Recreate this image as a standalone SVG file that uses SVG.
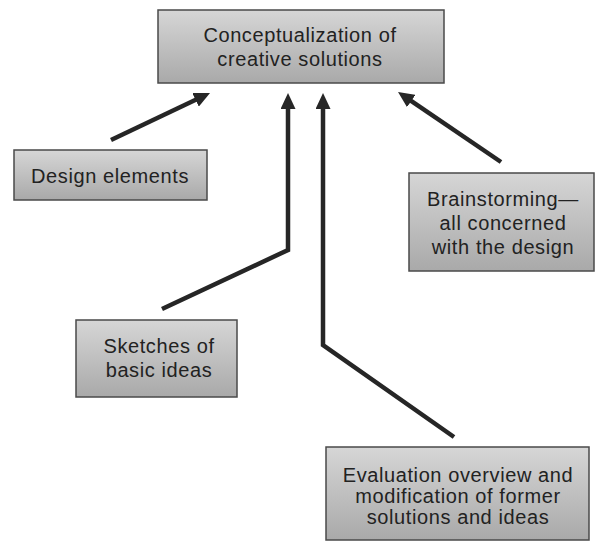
<svg xmlns="http://www.w3.org/2000/svg" width="596" height="543" viewBox="0 0 596 543">
<style>
.box{fill:url(#g);stroke:#4a4a4a;stroke-width:1.5}
.t{font-family:"Liberation Sans",Arial,sans-serif;font-size:20px;letter-spacing:0.6px;fill:#222;text-anchor:middle}
.c{fill:none;stroke:#262626;stroke-width:4.5;stroke-linejoin:miter}
</style>
<defs>
<linearGradient id="g" x1="0" y1="0" x2="0" y2="1">
<stop offset="0" stop-color="#d6d6d6"/>
<stop offset="1" stop-color="#a9a9a9"/>
</linearGradient>
<marker id="ah" markerUnits="userSpaceOnUse" markerWidth="17" markerHeight="15" refX="6" refY="7.5" orient="auto" viewBox="0 0 17 15">
<path d="M0,0 L16,7.5 L0,15 Z" fill="#262626"/>
</marker>
</defs>
<g id="conceptualization">
<rect class="box" x="158" y="10" width="286" height="73"/>
<text class="t" x="300" y="42">Conceptualization of</text>
<text class="t" x="300" y="66">creative solutions</text>
</g>
<g id="design-elements">
<rect class="box" x="14" y="150" width="193" height="50"/>
<text class="t" x="110" y="183">Design elements</text>
</g>
<g id="brainstorming">
<rect class="box" x="409" y="173" width="185" height="98"/>
<text class="t" x="503" y="206">Brainstorming—</text>
<text class="t" x="503" y="230">all concerned</text>
<text class="t" x="503" y="254">with the design</text>
</g>
<g id="sketches">
<rect class="box" x="76" y="320" width="161" height="77"/>
<text class="t" x="159" y="353">Sketches of</text>
<text class="t" x="159" y="377">basic ideas</text>
</g>
<g id="evaluation">
<rect class="box" x="326" y="447" width="263" height="93"/>
<text class="t" x="458" y="482">Evaluation overview and</text>
<text class="t" x="458" y="503">modification of former</text>
<text class="t" x="458" y="524">solutions and ideas</text>
</g>
<g id="connectors">
<path class="c" d="M111,140 L201,97.3" marker-end="url(#ah)"/>
<path class="c" d="M162,309 L288,250 L288,103" marker-end="url(#ah)"/>
<path class="c" d="M454,437 L323,345 L323,103" marker-end="url(#ah)"/>
<path class="c" d="M501,162 L406.3,97.6" marker-end="url(#ah)"/>
</g>
</svg>
